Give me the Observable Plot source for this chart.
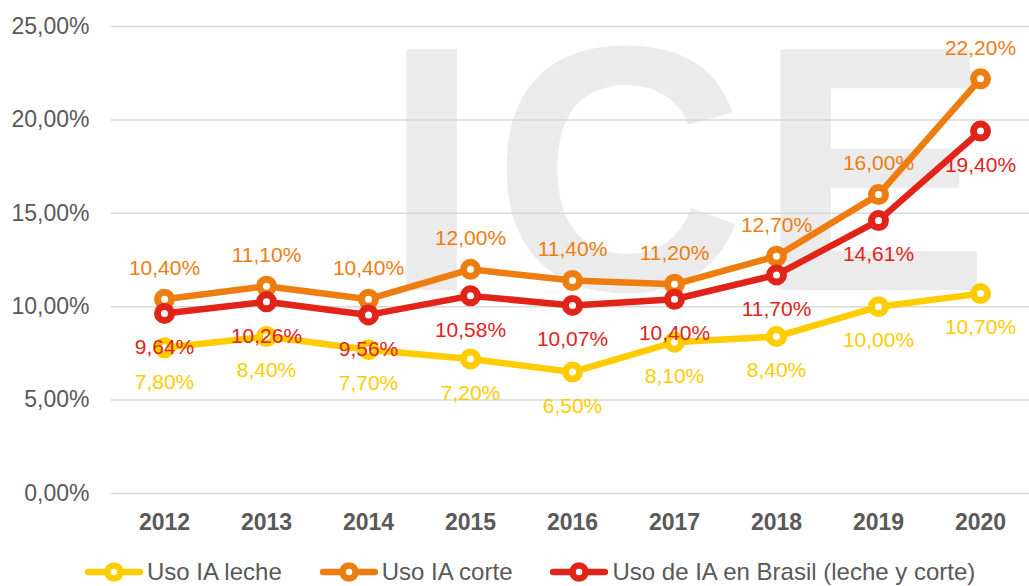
<!DOCTYPE html>
<html><head><meta charset="utf-8">
<script src="https://cdn.jsdelivr.net/npm/d3@7"></script>
<script src="https://cdn.jsdelivr.net/npm/@observablehq/plot@0.6"></script>
<style>
body{margin:0;background:#fff;font-family:"Liberation Sans",Arial,sans-serif;}
#legend{display:flex;align-items:center;height:30px;padding-left:85px;margin-top:12px;font-size:24px;color:#595959;}
.item{display:flex;align-items:center;margin-right:38px;white-space:nowrap;}
.item span{margin-left:4px;}
</style></head><body><div id="chart"></div><div id="legend"></div>
<script>
const years = ["2012","2013","2014","2015","2016","2017","2018","2019","2020"];
const leche = [7.8, 8.4, 7.7, 7.2, 6.5, 8.1, 8.4, 10.0, 10.7];
const corte = [10.4, 11.1, 10.4, 12.0, 11.4, 11.2, 12.7, 16.0, 22.2];
const brasil = [9.64, 10.26, 9.56, 10.58, 10.07, 10.40, 11.70, 14.61, 19.40];
const seriesNames = ["Uso IA leche", "Uso IA corte", "Uso de IA en Brasil (leche y corte)"];
const seriesColors = ["#ffcc00", "#ee7d0f", "#e2231a"];
const yTicks = [0, 5, 10, 15, 20, 25];

const fmt = v => v.toFixed(2).replace(".", ",") + "%";
const rowsOf = vals => years.map((y, i) => ({year: y, value: vals[i]}));
const series = [rowsOf(leche), rowsOf(corte), rowsOf(brasil)];
const labelDy = [34, -31, 34];

const marks = [
  Plot.gridY(yTicks, {stroke: "#d9d9d9", strokeOpacity: 1, strokeWidth: 1.5}),
  Plot.axisY(yTicks, {tickSize: 0, tickPadding: 22, tickFormat: fmt, fontSize: 23, fill: "#595959"}),
  Plot.axisX({tickSize: 0, tickPadding: 20, fontWeight: "bold", fontSize: 23, fill: "#595959"})
];
series.forEach((rows, k) => {
  marks.push(Plot.line(rows, {x: "year", y: "value", stroke: seriesColors[k], strokeWidth: 6.5, strokeLinejoin: "round"}));
  marks.push(Plot.dot(rows, {x: "year", y: "value", r: 7, stroke: seriesColors[k], strokeWidth: 7, fill: "white"}));
});
series.forEach((rows, k) => {
  marks.push(Plot.text(rows, {x: "year", y: "value", text: d => fmt(d.value), dy: labelDy[k], fill: seriesColors[k], fontSize: 21}));
});

const chart = Plot.plot({
  width: 1029, height: 545,
  marginTop: 26, marginBottom: 52, marginLeft: 111, marginRight: 0, insetRight: -4,
  x: {type: "point", domain: years, padding: 0.5, label: null},
  y: {domain: [0, 25], label: null},
  style: {fontFamily: "'Liberation Sans', Arial, sans-serif", color: "#595959", background: "white", overflow: "visible"},
  marks
});
// background watermark (decoration)
const svgSel = d3.select(chart);
svgSel.insert("text", ":first-child")
  .attr("transform", "translate(383,290)")
  .attr("text-anchor", "start")
  .attr("font-size", 350)
  .attr("font-weight", "bold")
  .attr("font-family", "'Liberation Sans', Arial, sans-serif")
  .attr("fill", "#ebebeb")
  .style("letter-spacing", "12px")
  .text("ICE");
document.getElementById("chart").appendChild(chart);

const legend = d3.select("#legend");
seriesNames.forEach((name, k) => {
  const it = legend.append("div").attr("class", "item");
  const s = it.append("svg").attr("width", 58).attr("height", 24);
  s.append("line").attr("x1", 3).attr("x2", 55).attr("y1", 12).attr("y2", 12)
    .attr("stroke", seriesColors[k]).attr("stroke-width", 6.5).attr("stroke-linecap", "round");
  s.append("circle").attr("cx", 29).attr("cy", 12).attr("r", 6.5)
    .attr("fill", "white").attr("stroke", seriesColors[k]).attr("stroke-width", 6.5);
  it.append("span").text(name);
});
</script></body></html>
